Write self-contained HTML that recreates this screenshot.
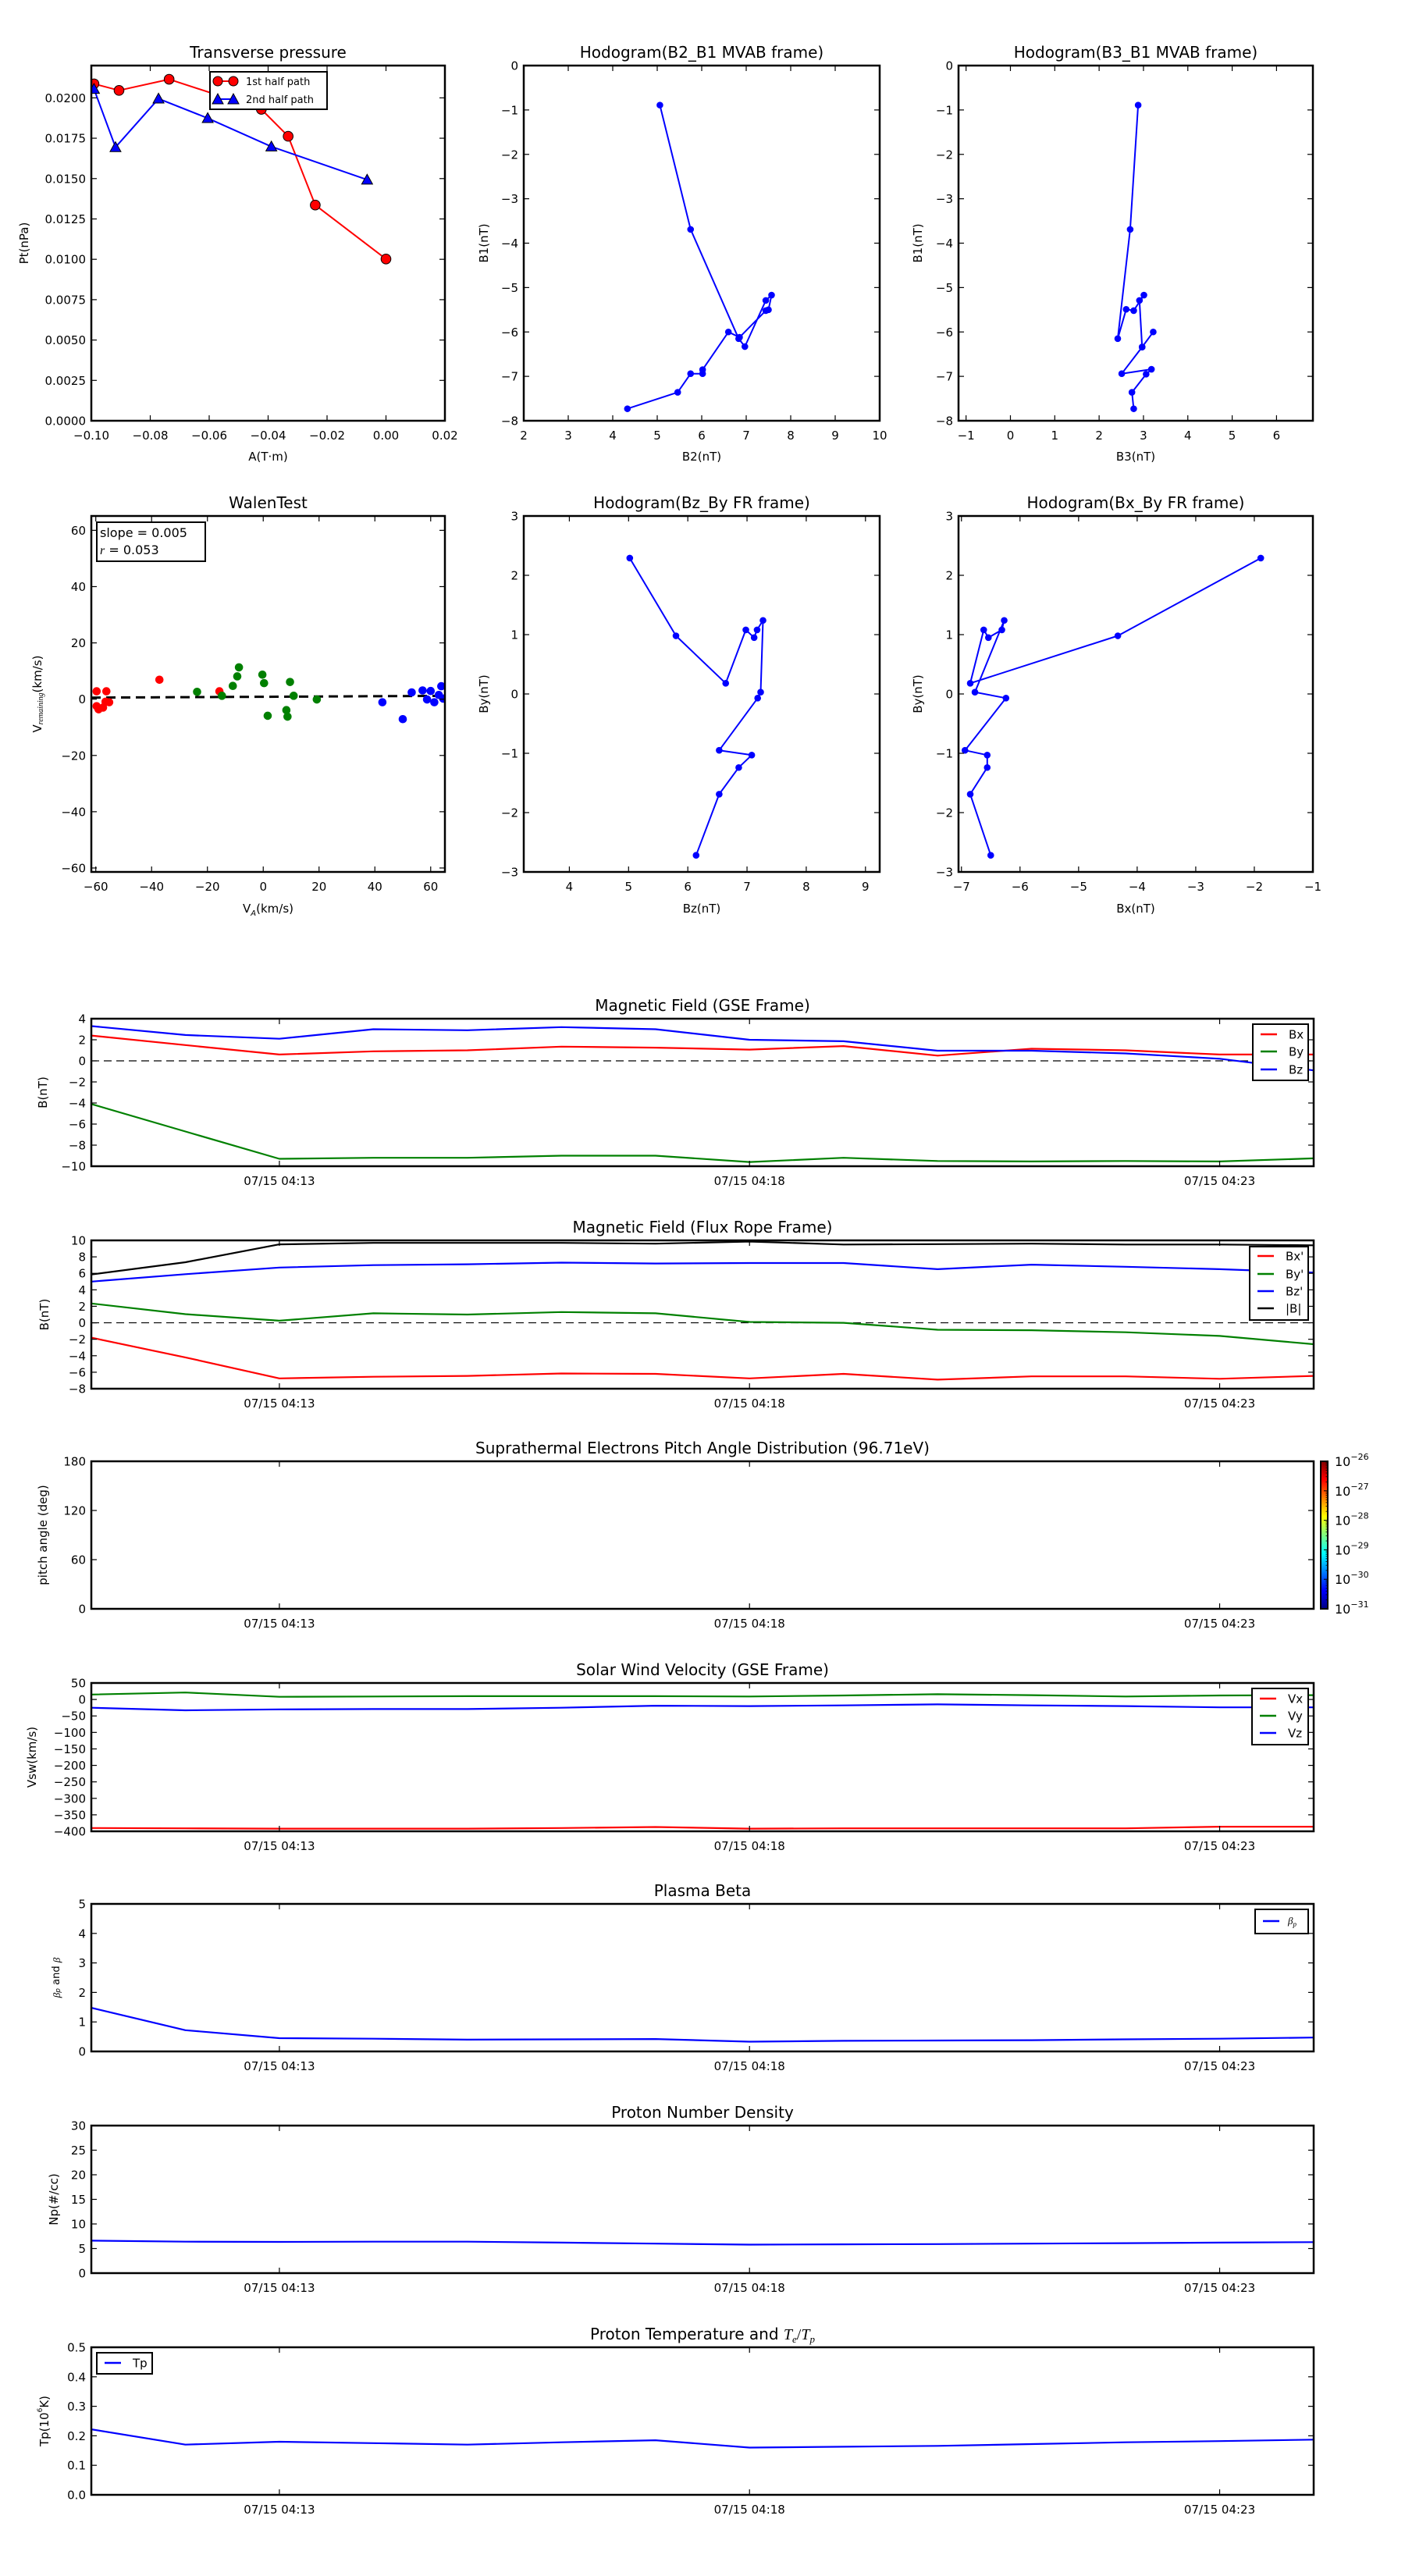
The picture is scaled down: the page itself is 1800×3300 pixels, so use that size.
<!DOCTYPE html>
<html><head><meta charset="utf-8"><title>Flux rope analysis</title>
<style>
html,body{margin:0;padding:0;background:#fff;}
svg{display:block;font-family:"DejaVu Sans","Liberation Sans",sans-serif;}
</style></head>
<body>
<svg id="fig" xmlns="http://www.w3.org/2000/svg" width="1800" height="3300" viewBox="0 0 1800 3300">
<defs>
<linearGradient id="jet" x1="0" y1="1" x2="0" y2="0">
<stop offset="0" stop-color="#000080"/><stop offset="0.125" stop-color="#0000ff"/>
<stop offset="0.375" stop-color="#00ffff"/><stop offset="0.5" stop-color="#80ff80"/>
<stop offset="0.625" stop-color="#ffff00"/><stop offset="0.875" stop-color="#ff0000"/>
<stop offset="1" stop-color="#800000"/>
</linearGradient>
</defs>
</svg>
<script>
// ---------- data ----------
const timeLabels = ['04:11','04:12','04:13','04:14','04:15','04:16','04:17','04:18','04:19','04:20','04:21','04:22','04:23','04:24'];
const timeTickLabels = ['07/15 04:13','07/15 04:18','07/15 04:23'];
const timeTickValues = ['04:13','04:18','04:23'];
const gseBx = [2.4,1.5,0.6,0.9,1.0,1.35,1.25,1.07,1.4,0.5,1.15,1.0,0.6,0.6];
const gseBy = [-4.1,-6.7,-9.3,-9.2,-9.2,-9.0,-9.0,-9.6,-9.2,-9.5,-9.55,-9.5,-9.55,-9.25];
const gseBz = [3.3,2.45,2.1,3.0,2.9,3.2,3.0,2.0,1.86,0.96,0.96,0.7,0.2,-0.9];
const frBx = [-1.8,-4.2,-6.75,-6.55,-6.45,-6.15,-6.2,-6.75,-6.2,-6.9,-6.5,-6.5,-6.8,-6.45];
const frBy = [2.35,1.05,0.25,1.15,1.0,1.3,1.15,0.1,0.0,-0.85,-0.9,-1.15,-1.6,-2.6];
const frBz = [5.0,5.9,6.7,7.0,7.1,7.3,7.2,7.25,7.25,6.5,7.05,6.8,6.5,6.1];
const frBt = [5.86,7.35,9.52,9.7,9.7,9.7,9.6,9.86,9.5,9.55,9.6,9.5,9.5,9.4];
const vswX = [-390,-391,-392,-392,-392,-390,-387,-392,-391,-391,-391,-391,-386,-386];
const vswY = [15,21,8,9,10,10,10,9,12,16,13,9,12,13];
const vswZ = [-25,-33,-30,-29,-29,-25,-19,-20,-18,-15,-18,-20,-24,-24];
const betaP = [1.48,0.72,0.45,0.43,0.40,0.41,0.42,0.33,0.36,0.37,0.38,0.41,0.43,0.47];
const densNp = [6.6,6.4,6.35,6.4,6.4,6.2,6.0,5.8,5.85,5.9,6.0,6.1,6.2,6.3];
const tempTp = [0.222,0.170,0.180,0.175,0.170,0.178,0.185,0.160,0.163,0.166,0.172,0.178,0.182,0.187];

const ptRedA = [-0.0991,-0.0906,-0.0736,-0.0423,-0.0332,-0.0240,0.0000];
const ptRedP = [0.02087,0.02046,0.02115,0.01929,0.01762,0.01336,0.01002];
const ptBlueA = [-0.0991,-0.0918,-0.0772,-0.0605,-0.0389,-0.0064];
const ptBlueP = [0.02055,0.01694,0.01995,0.01874,0.01698,0.01493];

const mvB2 = [5.06,5.75,6.83,6.97,7.44,7.57,7.50,7.44,6.85,6.60,6.02,6.02,5.75,5.46,4.33];
const mvB1 = [-0.89,-3.69,-6.15,-6.33,-5.29,-5.17,-5.50,-5.52,-6.12,-6.00,-6.85,-6.94,-6.94,-7.36,-7.73];
const mvB3 = [2.88,2.70,2.42,2.61,2.78,3.01,2.91,2.97,3.22,2.97,2.51,3.18,3.06,2.74,2.78];
const mvB1b = [-0.89,-3.69,-6.15,-5.49,-5.52,-5.17,-5.29,-6.34,-6.00,-6.34,-6.94,-6.84,-6.95,-7.36,-7.73];

const hodoBz = [5.02,5.80,6.64,6.98,7.12,7.17,7.27,7.23,7.18,6.53,7.08,6.86,6.53,6.14];
const hodoBy = [2.29,0.98,0.18,1.08,0.95,1.08,1.24,0.03,-0.07,-0.95,-1.03,-1.24,-1.69,-2.72];
const hodoBx = [-1.89,-4.33,-6.85,-6.62,-6.54,-6.31,-6.27,-6.77,-6.24,-6.94,-6.56,-6.56,-6.85,-6.50];

const walenRedX = [-59.7,-59.7,-59,-57.4,-56.2,-56.5,-55.2,-37.2,-15.7];
const walenRedY = [2.8,-2.5,-3.6,-3.0,2.8,-0.9,-1.1,6.9,2.8];
const walenGreenX = [-23.7,-14.8,-10.9,-9.3,-8.7,-0.3,0.3,1.6,8.3,8.7,9.6,10.9,19.2];
const walenGreenY = [2.6,1.2,4.7,8.1,11.3,8.7,5.7,-5.9,-3.9,-6.2,6.1,1.2,-0.1];
const walenBlueX = [42.7,50,53.2,57.1,58.7,60,61.3,62.9,63.8,64.5];
const walenBlueY = [-1.1,-7.1,2.4,3.1,-0.1,2.9,-1.1,1.5,4.6,0.2];
const walenSlope = 0.005;
const walenIntercept = 0.85;

// ---------- helpers ----------
const NS = 'http://www.w3.org/2000/svg';
const svg = document.getElementById('fig');
const MINUS = '\u2212';
function mk(tag, attrs, parent){
  const e = document.createElementNS(NS, tag);
  for (const k in attrs) e.setAttribute(k, attrs[k]);
  (parent || svg).appendChild(e);
  return e;
}
function fmt(v, d){ const s = v.toFixed(d); return s.startsWith('-') ? MINUS + s.slice(1) : s; }
function tmin(lbl){ const p = lbl.split(':'); return (+p[0]) * 60 + (+p[1]) - (4 * 60 + 11); }
let clipN = 0;
function axes(nm, l, t, r, b, xd, yd){
  const g = mk('g', {});
  
  
  const id = 'clip' + (clipN++);
  const cp = mk('clipPath', {id: id}, g);
  mk('rect', {x: l, y: t, width: r - l, height: b - t}, cp);
  const data = mk('g', {'clip-path': 'url(#' + id + ')'}, g);
  
  
  return {g, data, l, t, r, b,
    sx: v => l + (v - xd[0]) / (xd[1] - xd[0]) * (r - l),
    sy: v => b - (v - yd[0]) / (yd[1] - yd[0]) * (b - t)};
}
function frame(ax){
  const f = mk('rect', {x: ax.l, y: ax.t, width: ax.r - ax.l, height: ax.b - ax.t, fill: 'none', stroke: '#000', 'stroke-width': 2.5}, ax.g);
  
  
}
function yTicks(ax, vals, labels, len){
  len = len || 7;
  vals.forEach((v, i) => {
    const y = ax.sy(v);
    const t1 = mk('line', {x1: ax.l, x2: ax.l + len, y1: y, y2: y, stroke: '#000', 'stroke-width': 1.2}, ax.g);
    
    
    const t2 = mk('line', {x1: ax.r - len, x2: ax.r, y1: y, y2: y, stroke: '#000', 'stroke-width': 1.2}, ax.g);
    
    
    const tx = mk('text', {x: ax.l - 7, y: y + 5.5, 'text-anchor': 'end', 'font-size': 15}, ax.g);
    tx.textContent = labels[i];
    
    
  });
}
function xTicks(ax, vals, labels, len){
  len = len || 7;
  vals.forEach((v, i) => {
    const x = ax.sx(v);
    const t1 = mk('line', {x1: x, x2: x, y1: ax.b, y2: ax.b - len, stroke: '#000', 'stroke-width': 1.2}, ax.g);
    
    
    const t2 = mk('line', {x1: x, x2: x, y1: ax.t, y2: ax.t + len, stroke: '#000', 'stroke-width': 1.2}, ax.g);
    
    
    const tx = mk('text', {x: x, y: ax.b + 24, 'text-anchor': 'middle', 'font-size': 15}, ax.g);
    tx.textContent = labels[i];
    
    
  });
}
function title(ax, str){
  const t = mk('text', {x: (ax.l + ax.r) / 2, y: ax.t - 10, 'text-anchor': 'middle', 'font-size': 20}, ax.g);
  t.textContent = str;
  
  
  return t;
}
function ylabel(ax, str, x){
  const cy = (ax.t + ax.b) / 2;
  const t = mk('text', {x: x, y: cy, 'text-anchor': 'middle', 'dominant-baseline': 'central', 'font-size': 15, transform: 'rotate(-90 ' + x + ' ' + cy + ')'}, ax.g);
  t.textContent = str;
  
  
  return t;
}
function xlabel(ax, str, y){
  const t = mk('text', {x: (ax.l + ax.r) / 2, y: y, 'text-anchor': 'middle', 'font-size': 15}, ax.g);
  t.textContent = str;
  
  
  return t;
}
function line(ax, xs, ys, color, nm, w){
  const pts = xs.map((x, i) => ax.sx(x).toFixed(1) + ',' + ax.sy(ys[i]).toFixed(1)).join(' ');
  const p = mk('polyline', {points: pts, fill: 'none', stroke: color, 'stroke-width': w || 2.2, 'stroke-linejoin': 'round'}, ax.data);
  
  
}
function dots(ax, xs, ys, color, nm, r, edge){
  xs.forEach((x, i) => {
    const c = mk('circle', {cx: ax.sx(x), cy: ax.sy(ys[i]), r: r, fill: color, stroke: edge || color, 'stroke-width': 1}, ax.data);
    
    
  });
}
function tris(ax, xs, ys, color, nm, s){
  xs.forEach((x, i) => {
    const cx = ax.sx(x), cy = ax.sy(ys[i]);
    const p = mk('polygon', {points: cx + ',' + (cy - s) + ' ' + (cx - s) + ',' + (cy + s * 0.8) + ' ' + (cx + s) + ',' + (cy + s * 0.8), fill: color, stroke: '#000', 'stroke-width': 1}, ax.data);
    
    
  });
}
function zeroLine(ax){
  const z = mk('line', {x1: ax.l, x2: ax.r, y1: ax.sy(0), y2: ax.sy(0), stroke: '#000', 'stroke-width': 1.2, 'stroke-dasharray': '10,6'}, ax.data);
  
  
}
function legend(ax, x1, y1, x2, y2, entries, ys){
  const g = mk('g', {}, ax.g);
  
  
  mk('rect', {x: x1, y: y1, width: x2 - x1, height: y2 - y1, fill: '#fff', stroke: '#000', 'stroke-width': 2}, g);
  entries.forEach((e, i) => {
    const eg = mk('g', {}, g);
    
    
    mk('line', {x1: x1 + 10, x2: x1 + 31, y1: ys[i], y2: ys[i], stroke: e[1], 'stroke-width': 2.5}, eg);
    const t = mk('text', {x: x1 + 46, y: ys[i] + 5.5, 'font-size': 15}, eg);
    t.textContent = e[0];
  });
  return g;
}
function rng(a, b, s){ const o = []; for (let v = a; v <= b + 1e-9; v += s) o.push(+v.toFixed(6)); return o; }
function labs(vals, d){ return vals.map(v => fmt(v, d)); }

// ---------- row 1 ----------
{ // Transverse pressure
  const ax = axes('transverse-pressure-chart', 117, 84, 570, 539, [-0.1, 0.02], [0, 0.0220]);
  line(ax, ptRedA, ptRedP, '#ff0000', 'first-half-path-line', 2);
  line(ax, ptBlueA, ptBlueP, '#0000ff', 'second-half-path-line', 2);
  dots(ax, ptRedA, ptRedP, '#ff0000', 'first-half-marker', 6.3, '#000');
  tris(ax, ptBlueA, ptBlueP, '#0000ff', 'second-half-marker', 7);
  const xv = rng(-0.1, 0.02, 0.02);
  xTicks(ax, xv, labs(xv, 2));
  const yv = rng(0, 0.02, 0.0025);
  yTicks(ax, yv, labs(yv, 4));
  title(ax, 'Transverse pressure');
  ylabel(ax, 'Pt(nPa)', 31);
  xlabel(ax, 'A(T\u00b7m)', 590);
  const lg = mk('g', {}, ax.g);
  
  
  mk('rect', {x: 269, y: 92, width: 150, height: 48, fill: '#fff', stroke: '#000', 'stroke-width': 2}, lg);
  mk('line', {x1: 279, x2: 299, y1: 104, y2: 104, stroke: '#ff0000', 'stroke-width': 2}, lg);
  mk('circle', {cx: 279, cy: 104, r: 6, fill: '#ff0000', stroke: '#000'}, lg);
  mk('circle', {cx: 299, cy: 104, r: 6, fill: '#ff0000', stroke: '#000'}, lg);
  const t1 = mk('text', {x: 315, y: 109, 'font-size': 13}, lg); t1.textContent = '1st half path';
  mk('line', {x1: 279, x2: 299, y1: 127, y2: 127, stroke: '#0000ff', 'stroke-width': 2}, lg);
  mk('polygon', {points: '279,120 272,133 286,133', fill: '#0000ff', stroke: '#000'}, lg);
  mk('polygon', {points: '299,120 292,133 306,133', fill: '#0000ff', stroke: '#000'}, lg);
  const t2 = mk('text', {x: 315, y: 132, 'font-size': 13}, lg); t2.textContent = '2nd half path';
  frame(ax);
}
{ // Hodogram B2_B1
  const ax = axes('hodogram-b2-b1-chart', 671, 84, 1127, 539, [2, 10], [-8, 0]);
  line(ax, mvB2, mvB1, '#0000ff', 'hodogram-line', 2);
  dots(ax, mvB2, mvB1, '#0000ff', 'hodogram-point', 3.8);
  const xv = rng(2, 10, 1); xTicks(ax, xv, labs(xv, 0));
  const yv = rng(-8, 0, 1); yTicks(ax, yv, labs(yv, 0));
  title(ax, 'Hodogram(B2_B1 MVAB frame)');
  ylabel(ax, 'B1(nT)', 620);
  xlabel(ax, 'B2(nT)', 590);
  frame(ax);
}
{ // Hodogram B3_B1
  const ax = axes('hodogram-b3-b1-chart', 1228, 84, 1682, 539, [-1.17, 6.82], [-8, 0]);
  line(ax, mvB3, mvB1b, '#0000ff', 'hodogram-line', 2);
  dots(ax, mvB3, mvB1b, '#0000ff', 'hodogram-point', 3.8);
  const xv = rng(-1, 6, 1); xTicks(ax, xv, labs(xv, 0));
  const yv = rng(-8, 0, 1); yTicks(ax, yv, labs(yv, 0));
  title(ax, 'Hodogram(B3_B1 MVAB frame)');
  ylabel(ax, 'B1(nT)', 1176);
  xlabel(ax, 'B3(nT)', 590);
  frame(ax);
}
// ---------- row 2 ----------
{ // Walen test
  const ax = axes('walen-test-chart', 117, 661, 570, 1117, [-61.6, 65.1], [-61.4, 65.1]);
  const fx = [-61.6, 65.1];
  const fy = fx.map(v => walenSlope * v + walenIntercept);
  const fl = mk('line', {x1: ax.sx(fx[0]), x2: ax.sx(fx[1]), y1: ax.sy(fy[0]), y2: ax.sy(fy[1]), stroke: '#000', 'stroke-width': 3, 'stroke-dasharray': '12,7'}, ax.data);
  
  
  dots(ax, walenRedX, walenRedY, '#ff0000', 'walen-point-red', 4.8);
  dots(ax, walenGreenX, walenGreenY, '#008000', 'walen-point-green', 4.8);
  dots(ax, walenBlueX, walenBlueY, '#0000ff', 'walen-point-blue', 4.8);
  const xv = rng(-60, 60, 20); xTicks(ax, xv, labs(xv, 0));
  const yv = rng(-60, 60, 20); yTicks(ax, yv, labs(yv, 0));
  title(ax, 'WalenTest');
  const yl = ylabel(ax, '', 48);
  yl.innerHTML = '<tspan>V</tspan><tspan font-size="10" font-style="italic" font-family="Liberation Serif, serif" dy="4">remaining</tspan><tspan dy="-4">(km/s)</tspan>';
  const xl = xlabel(ax, '', 1169);
  xl.innerHTML = '<tspan>V</tspan><tspan font-size="10" font-style="italic" dy="4">A</tspan><tspan dy="-4">(km/s)</tspan>';
  const box = mk('g', {}, ax.g);
  
  
  mk('rect', {x: 124, y: 669, width: 139, height: 50, fill: '#fff', stroke: '#000', 'stroke-width': 2}, box);
  const s1 = mk('text', {x: 128, y: 688, 'font-size': 16}, box); s1.textContent = 'slope = 0.005';
  const s2 = mk('text', {x: 128, y: 710, 'font-size': 16}, box);
  s2.innerHTML = '<tspan font-style="italic" font-family="Liberation Serif, serif">r</tspan> = 0.053';
  frame(ax);
}
{ // Hodogram Bz_By FR
  const ax = axes('hodogram-bz-by-chart', 671, 661, 1127, 1117, [3.23, 9.24], [-3, 3]);
  line(ax, hodoBz, hodoBy, '#0000ff', 'hodogram-line', 2);
  dots(ax, hodoBz, hodoBy, '#0000ff', 'hodogram-point', 3.8);
  const xv = rng(4, 9, 1); xTicks(ax, xv, labs(xv, 0));
  const yv = rng(-3, 3, 1); yTicks(ax, yv, labs(yv, 0));
  title(ax, 'Hodogram(Bz_By FR frame)');
  ylabel(ax, 'By(nT)', 620);
  xlabel(ax, 'Bz(nT)', 1169);
  frame(ax);
}
{ // Hodogram Bx_By FR
  const ax = axes('hodogram-bx-by-chart', 1228, 661, 1682, 1117, [-7.05, -1], [-3, 3]);
  line(ax, hodoBx, hodoBy, '#0000ff', 'hodogram-line', 2);
  dots(ax, hodoBx, hodoBy, '#0000ff', 'hodogram-point', 3.8);
  const xv = rng(-7, -1, 1); xTicks(ax, xv, labs(xv, 0));
  const yv = rng(-3, 3, 1); yTicks(ax, yv, labs(yv, 0));
  title(ax, 'Hodogram(Bx_By FR frame)');
  ylabel(ax, 'By(nT)', 1176);
  xlabel(ax, 'Bx(nT)', 1169);
  frame(ax);
}
// ---------- time series ----------
const TX = timeLabels.map(tmin);
const TTV = timeTickValues.map(tmin);
function tsAxes(nm, t, b, yd){
  const ax = axes(nm, 117, t, 1683, b, [0, 13], yd);
  return ax;
}
{ // GSE magnetic field
  const ax = tsAxes('magnetic-field-gse-chart', 1305, 1494, [-10, 4]);
  zeroLine(ax);
  line(ax, TX, gseBx, '#ff0000', 'bx-line');
  line(ax, TX, gseBy, '#008000', 'by-line');
  line(ax, TX, gseBz, '#0000ff', 'bz-line');
  xTicks(ax, TTV, timeTickLabels);
  const yv = rng(-10, 4, 2); yTicks(ax, yv, labs(yv, 0));
  title(ax, 'Magnetic Field (GSE Frame)');
  ylabel(ax, 'B(nT)', 55);
  legend(ax, 1605, 1312, 1676, 1384, [['Bx', '#ff0000'], ['By', '#008000'], ['Bz', '#0000ff']], [1325, 1347, 1370]);
  frame(ax);
}
{ // Flux rope frame
  const ax = tsAxes('magnetic-field-flux-rope-chart', 1589, 1779, [-8, 10]);
  zeroLine(ax);
  line(ax, TX, frBx, '#ff0000', 'bx-prime-line');
  line(ax, TX, frBy, '#008000', 'by-prime-line');
  line(ax, TX, frBz, '#0000ff', 'bz-prime-line');
  line(ax, TX, frBt, '#000000', 'b-magnitude-line');
  xTicks(ax, TTV, timeTickLabels);
  const yv = rng(-8, 10, 2); yTicks(ax, yv, labs(yv, 0));
  title(ax, 'Magnetic Field (Flux Rope Frame)');
  ylabel(ax, 'B(nT)', 57);
  legend(ax, 1601, 1597, 1676, 1691, [["Bx'", '#ff0000'], ["By'", '#008000'], ["Bz'", '#0000ff'], ['|B|', '#000000']], [1609, 1632, 1654, 1676]);
  frame(ax);
}
{ // PAD
  const ax = tsAxes('pitch-angle-distribution-chart', 1872, 2061, [0, 180]);
  xTicks(ax, TTV, timeTickLabels);
  const yv = [0, 60, 120, 180]; yTicks(ax, yv, labs(yv, 0));
  title(ax, 'Suprathermal Electrons Pitch Angle Distribution (96.71eV)');
  ylabel(ax, 'pitch angle (deg)', 55);
  frame(ax);
  const cb = mk('g', {});
  
  
  mk('rect', {x: 1692, y: 1872, width: 9, height: 189, fill: 'url(#jet)', stroke: '#000', 'stroke-width': 2}, cb);
  const decs = [-31, -30, -29, -28, -27, -26];
  decs.forEach((d, i) => {
    const y = 2061 - i * 189 / 5;
    mk('line', {x1: 1696, x2: 1701, y1: y, y2: y, stroke: '#000', 'stroke-width': 1}, cb);
    if (i < 5) for (let m = 2; m < 10; m++) {
      const ym = y - Math.log10(m) * 189 / 5;
      mk('line', {x1: 1698.5, x2: 1701, y1: ym, y2: ym, stroke: '#000', 'stroke-width': 0.8}, cb);
    }
    const t = mk('text', {x: 1710, y: y + 6, 'font-size': 16}, cb);
    t.innerHTML = '10<tspan font-size="11" dy="-8">' + MINUS + Math.abs(d) + '</tspan>';
    
    
  });
}
{ // Solar wind velocity
  const ax = tsAxes('solar-wind-velocity-chart', 2156, 2346, [-400, 50]);
  line(ax, TX, vswX, '#ff0000', 'vx-line');
  line(ax, TX, vswY, '#008000', 'vy-line');
  line(ax, TX, vswZ, '#0000ff', 'vz-line');
  xTicks(ax, TTV, timeTickLabels);
  const yv = rng(-400, 50, 50); yTicks(ax, yv, labs(yv, 0));
  title(ax, 'Solar Wind Velocity (GSE Frame)');
  ylabel(ax, 'Vsw(km/s)', 41);
  legend(ax, 1604, 2163, 1676, 2235, [['Vx', '#ff0000'], ['Vy', '#008000'], ['Vz', '#0000ff']], [2176, 2198, 2220]);
  frame(ax);
}
{ // Plasma beta
  const ax = tsAxes('plasma-beta-chart', 2439, 2628, [0, 5]);
  line(ax, TX, betaP, '#0000ff', 'beta-p-line');
  xTicks(ax, TTV, timeTickLabels);
  const yv = rng(0, 5, 1); yTicks(ax, yv, labs(yv, 0));
  title(ax, 'Plasma Beta');
  const yl = ylabel(ax, '', 72);
  yl.setAttribute('font-size', 13);
  yl.innerHTML = '<tspan font-style="italic" font-family="Liberation Serif, serif">\u03b2</tspan><tspan font-size="9" font-style="italic" dy="3">p</tspan><tspan dy="-3"> and </tspan><tspan font-style="italic" font-family="Liberation Serif, serif">\u03b2</tspan>';
  const lg = legend(ax, 1608, 2446, 1676, 2477, [['', '#0000ff']], [2461]);
  const lt = mk('text', {x: 1650, y: 2465, 'font-size': 13, 'font-style': 'italic', 'font-family': 'Liberation Serif, serif'}, lg);
  lt.innerHTML = '\u03b2<tspan font-size="9" dy="3">p</tspan>';
  frame(ax);
}
{ // Proton density
  const ax = tsAxes('proton-density-chart', 2723, 2912, [0, 30]);
  line(ax, TX, densNp, '#0000ff', 'np-line');
  xTicks(ax, TTV, timeTickLabels);
  const yv = rng(0, 30, 5); yTicks(ax, yv, labs(yv, 0));
  title(ax, 'Proton Number Density');
  ylabel(ax, 'Np(#/cc)', 69);
  frame(ax);
}
{ // Proton temperature
  const ax = tsAxes('proton-temperature-chart', 3007, 3196, [0, 0.5]);
  line(ax, TX, tempTp, '#0000ff', 'tp-line');
  xTicks(ax, TTV, timeTickLabels);
  const yv = rng(0, 0.5, 0.1); yTicks(ax, yv, labs(yv, 1));
  const tt = title(ax, '');
  tt.innerHTML = 'Proton Temperature and <tspan font-style="italic" font-family="Liberation Serif, serif">T</tspan><tspan font-size="13" font-style="italic" font-family="Liberation Serif, serif" dy="4">e</tspan><tspan font-family="Liberation Serif, serif" dy="-4">/</tspan><tspan font-style="italic" font-family="Liberation Serif, serif">T</tspan><tspan font-size="13" font-style="italic" font-family="Liberation Serif, serif" dy="4">p</tspan>';
  const yl = ylabel(ax, '', 57);
  yl.innerHTML = 'Tp(10<tspan font-size="9" dy="-5">6</tspan><tspan dy="5">K)</tspan>';
  legend(ax, 124, 3014, 195, 3041, [['Tp', '#0000ff']], [3027]);
  frame(ax);
}
</script>
</body></html>
